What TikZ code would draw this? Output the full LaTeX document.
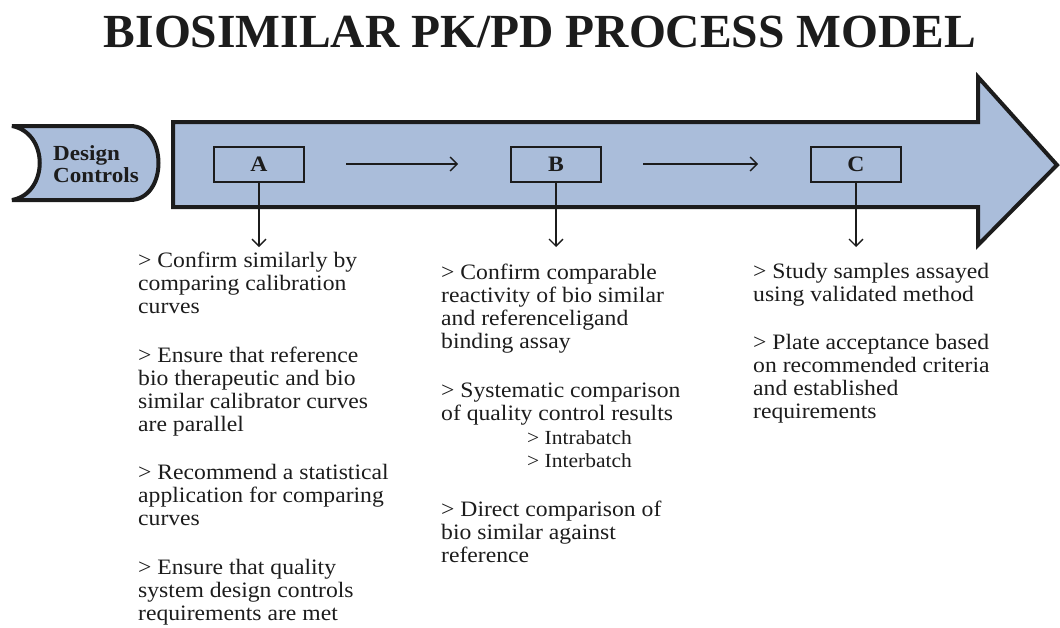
\documentclass[tikz,border=0pt]{standalone}
\usepackage{fontspec}
\setmainfont{Liberation Serif}[FakeStretch=1.075]
\newfontfamily\titlefont{Liberation Serif}
\usetikzlibrary{arrows.meta}
\definecolor{arrowblue}{RGB}{170,189,218}
\definecolor{inkgray}{RGB}{28,28,28}
\tikzset{
  stagebox/.style={draw=inkgray, line width=1.5pt, minimum width=90pt, minimum height=35pt,
    inner sep=0pt, font=\bfseries\fontsize{22}{22}\selectfont, text=inkgray},
  notes/.style={align=left, anchor=north west, inner sep=0pt,
    font=\fontsize{22}{23}\selectfont, text=inkgray},
  flow/.style={-{Straight Barb[length=7pt,width=14pt]}, line width=1.3pt, draw=inkgray},
}
\begin{document}
\begin{tikzpicture}[x=1pt,y=-1pt]
  \useasboundingbox (0,0) rectangle (1060,627);
  \node[anchor=base, text=inkgray, font=\titlefont\bfseries\fontsize{47.5}{50}\selectfont] (Title) at (540,47) {BIOSIMILAR PK/PD PROCESS MODEL};
  % big process arrow
  \draw[fill=arrowblue, draw=inkgray, line width=4pt, line join=miter]
    (173,122) -- (978,122) -- (978,77) -- (1057,165) -- (978,245) -- (978,207) -- (173,207) -- cycle;
  % design controls tab
  \draw[fill=arrowblue, draw=inkgray, line width=4pt, miter limit=2.5]
    (12,126) -- (130,126) .. controls (168,126) and (168,200) .. (130,200)
    -- (12,200) .. controls (49,193) and (49,133) .. (12,126) -- cycle;
  \node[align=left, anchor=west, inner sep=0pt, text=inkgray,
        font=\bfseries\fontsize{21.5}{22}\selectfont] (Design) at (53,164) {Design\\Controls};
  % stages
  \node[stagebox] (Box_A) at (259,164.5) {A};
  \node[stagebox] (Box_B) at (556,164.5) {B};
  \node[stagebox] (Box_C) at (856,164.5) {C};
  \draw[flow] (346,164) coordinate (AB_from) -- (458,164) coordinate (AB_to);
  \draw[flow] (643,164) coordinate (BC_from) -- (758,164) coordinate (BC_to);
  % notes under each stage
  \node[notes] (Text_A) at (138,252) {%
    > Confirm similarly by\\comparing calibration\\curves\\[25.5pt]
    > Ensure that reference\\bio therapeutic and bio\\similar calibrator curves\\are parallel\\[25.5pt]
    > Recommend a statistical\\application for comparing\\curves\\[25.5pt]
    > Ensure that quality\\system design controls\\requirements are met};
  \node[notes] (Text_B) at (441,264) {%
    > Confirm comparable\\reactivity of bio similar\\and referenceligand\\binding assay\\[25.5pt]
    > Systematic comparison\\of quality control results\\[1pt]
    \hspace*{86pt}{\fontsize{20}{23}\selectfont > Intrabatch}\\
    \hspace*{86pt}{\fontsize{20}{23}\selectfont > Interbatch}\\[26pt]
    > Direct comparison of\\bio similar against\\reference};
  \node[notes] (Text_C) at (753,263) {%
    > Study samples assayed\\using validated method\\[25pt]
    > Plate acceptance based\\on recommended criteria\\and established\\requirements};
  \draw[flow] (Box_A.south) -- (Box_A.south |- 0,247);
  \draw[flow] (Box_B.south) -- (Box_B.south |- 0,247);
  \draw[flow] (Box_C.south) -- (Box_C.south |- 0,247);
\end{tikzpicture}
\end{document}
